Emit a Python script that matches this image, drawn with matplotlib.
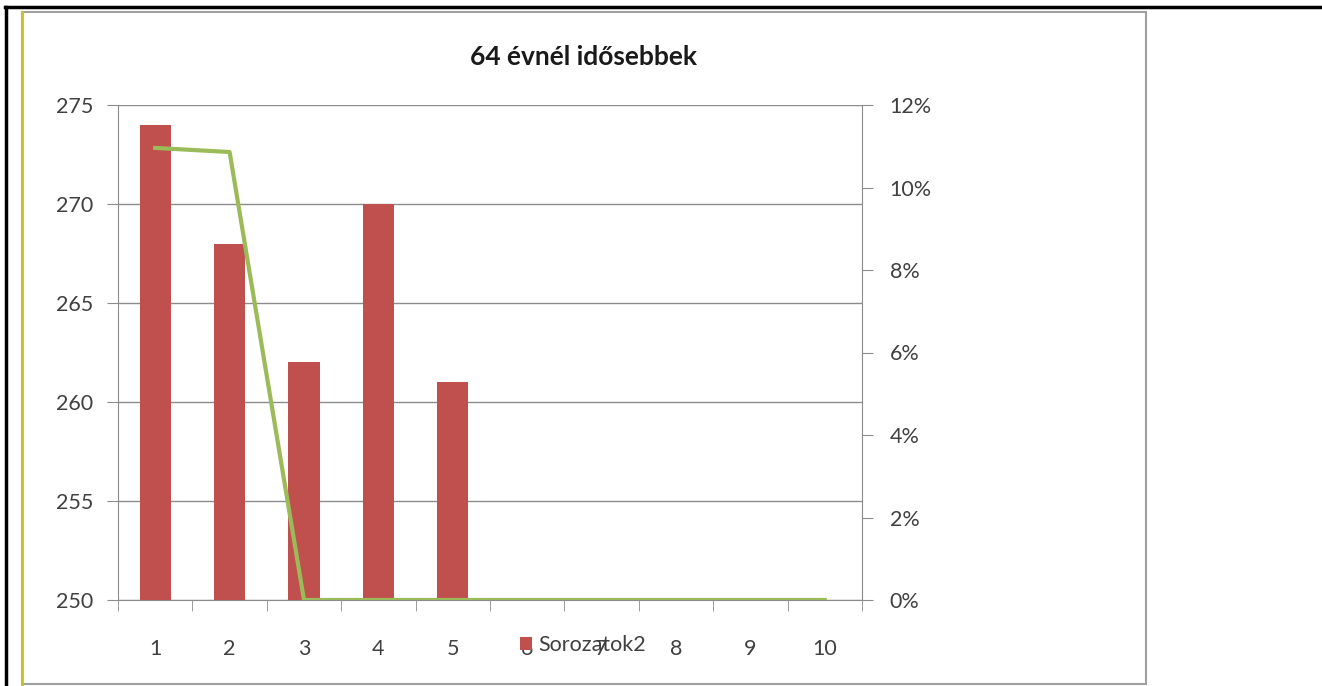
import matplotlib.pyplot as plt
import numpy as np
from matplotlib.patches import Rectangle
from matplotlib.lines import Line2D
from matplotlib.ticker import PercentFormatter

plt.rcParams['font.family'] = ['Lato', 'DejaVu Sans']

# data
categories = [1, 2, 3, 4, 5, 6, 7, 8, 9, 10]
bar_values = [274, 268, 262, 270, 261, 0, 0, 0, 0, 0]
line_values = [0.1096, 0.1086, 0.0, 0.0, 0.0, 0.0, 0.0, 0.0, 0.0, 0.0]
left_ticks = [250, 255, 260, 265, 270, 275]
right_ticks = [0, 0.02, 0.04, 0.06, 0.08, 0.10, 0.12]

W, H = 1322, 686
fig = plt.figure(figsize=(W / 100, H / 100), dpi=100)

# outer black frame (top and left)
fig.add_artist(Line2D([5 / W, 1], [1 - 7 / H, 1 - 7 / H], color='black', lw=2.5))
fig.add_artist(Line2D([6 / W, 6 / W], [0, 1 - 7 / H], color='black', lw=2.5))
# chart frame
fig.add_artist(Rectangle((22 / W, 2 / H), (1146 - 22) / W, (684 - 12) / H,
                         fill=False, edgecolor='#a0a0a0', lw=1.5))
fig.add_artist(Line2D([22 / W, 22 / W], [2 / H, 1 - 12 / H], color='#c8c41e', lw=2))

ax = fig.add_axes([118 / W, 86 / H, (862 - 118) / W, (600 - 105) / H])
x = np.arange(len(categories))
ax.bar(x, bar_values, width=0.42, color='#c0504d', zorder=3, label='Sorozatok2')
ax.set_ylim(250, 275)
ax.set_xlim(-0.5, len(categories) - 0.5)
ax.set_yticks(left_ticks)
ax.grid(axis='y', color='#8c8c8c', lw=1, zorder=0)
ax.set_xticks(x)
ax.set_xticklabels([str(c) for c in categories])
ax.set_xticks(np.arange(len(categories) + 1) - 0.5, minor=True)
ax.tick_params(axis='x', which='major', length=0, pad=28, labelsize=15.5, labelcolor='#404040')
ax.tick_params(axis='x', which='minor', length=8, color='#8c8c8c')
ax.tick_params(axis='y', length=8, color='#8c8c8c', labelsize=15.5, labelcolor='#404040', pad=10)
for side in ['top', 'right']:
    ax.spines[side].set_visible(False)
ax.spines['left'].set_color('#8c8c8c')
ax.spines['bottom'].set_color('#8c8c8c')

ax2 = ax.twinx()
ax2.plot(x, line_values, color='#9bbb59', lw=3, zorder=4)
ax2.set_ylim(0, 0.12)
ax2.set_yticks(right_ticks)
ax2.yaxis.set_major_formatter(PercentFormatter(1.0, decimals=0))
ax2.tick_params(axis='y', length=8, color='#8c8c8c', labelsize=15.5, labelcolor='#404040', pad=12)
for side in ['top', 'left', 'bottom']:
    ax2.spines[side].set_visible(False)
ax2.spines['right'].set_color('#8c8c8c')

fig.text(583 / W, 1 - 57 / H, '64 évnél idősebbek', ha='center', va='center',
         fontsize=19, fontweight='bold', color='#1a1a1a')

fig.legend(loc='center', bbox_to_anchor=(583 / W, 1 - 645 / H), frameon=False,
           fontsize=15.5, handlelength=0.55, handleheight=0.55, handletextpad=0.3,
           labelcolor='#404040')

fig.savefig('out.png', dpi=100)
